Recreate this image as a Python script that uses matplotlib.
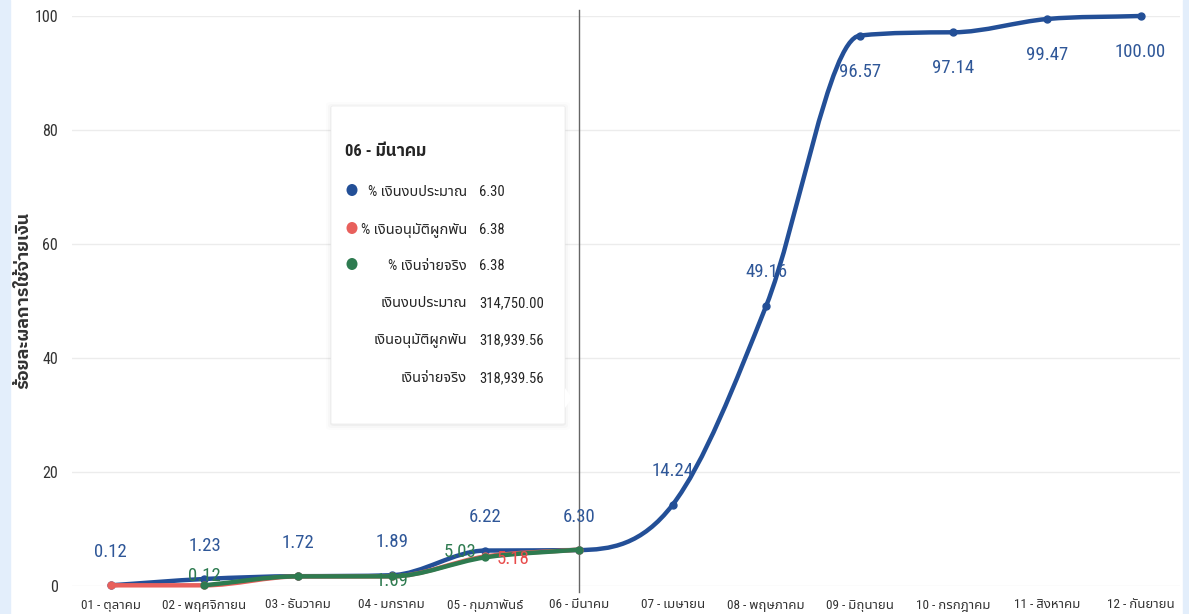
import numpy as np
import matplotlib
matplotlib.use("Agg")
import matplotlib.pyplot as plt
from matplotlib.path import Path
from matplotlib.patches import PathPatch, FancyBboxPatch, Rectangle, Polygon, Ellipse

plt.rcParams['font.family'] = ['Roboto Condensed', 'Noto Sans Thai', 'DejaVu Sans']
BOLD_FAMILY = ['Roboto Condensed', 'IBM Plex Sans Thai', 'Sarabun', 'Noto Sans Thai', 'DejaVu Sans']

# ---- data ----
months = ["01 - ตุลาคม", "02 - พฤศจิกายน", "03 - ธันวาคม", "04 - มกราคม",
          "05 - กุมภาพันธ์", "06 - มีนาคม", "07 - เมษายน", "08 - พฤษภาคม",
          "09 - มิถุนายน", "10 - กรกฎาคม", "11 - สิงหาคม", "12 - กันยายน"]
budget_pct = [0.12, 1.23, 1.72, 1.89, 6.22, 6.30, 14.24, 49.16, 96.57, 97.14, 99.47, 100.00]
commit_pct = [0.12, 0.12, 1.69, 1.69, 5.18, 6.38]
paid_pct = [None, 0.12, 1.69, 1.69, 5.03, 6.38]

tip_title = "06 - มีนาคม"
tip_labels = ["% เงินงบประมาณ", "% เงินอนุมัติผูกพัน", "% เงินจ่ายจริง",
              "เงินงบประมาณ", "เงินอนุมัติผูกพัน", "เงินจ่ายจริง"]
tip_values = ["6.30", "6.38", "6.38", "314,750.00", "318,939.56", "318,939.56"]
hover_idx = 5
ylabel = "ร้อยละผลการใช้จ่ายเงิน"

BLUE = "#234f97"
RED = "#e8605c"
GREEN = "#2e7b50"


def smooth_path(xs, ys):
    # monotone cubic bezier through the points (Fritsch-Carlson tangents)
    xs = np.asarray(xs, float)
    ys = np.asarray(ys, float)
    d = np.diff(ys) / np.diff(xs)
    m = np.zeros(len(ys))
    m[0], m[-1] = d[0], d[-1]
    for k in range(1, len(ys) - 1):
        m[k] = (d[k-1] + d[k]) / 2 if d[k-1] * d[k] > 0 else 0.0
    for k in range(len(d)):
        if d[k] == 0:
            m[k] = m[k+1] = 0.0
        else:
            a, b = m[k] / d[k], m[k+1] / d[k]
            s = a * a + b * b
            if s > 9:
                t = 3 / np.sqrt(s)
                m[k], m[k+1] = t * a * d[k], t * b * d[k]
    verts = [(xs[0], ys[0])]
    codes = [Path.MOVETO]
    for k in range(len(d)):
        h = xs[k+1] - xs[k]
        verts += [(xs[k] + h / 3, ys[k] + m[k] * h / 3),
                  (xs[k+1] - h / 3, ys[k+1] - m[k+1] * h / 3),
                  (xs[k+1], ys[k+1])]
        codes += [Path.CURVE4] * 3
    return Path(verts, codes)


def draw_series(ax, vals, color, z):
    pts = [(i, v) for i, v in enumerate(vals) if v is not None]
    xs = [p[0] for p in pts]
    ys = [p[1] for p in pts]
    ax.add_patch(PathPatch(smooth_path(xs, ys), fill=False, edgecolor=color,
                           lw=3.2, zorder=z, clip_on=False, capstyle='round'))
    ax.plot(xs, ys, 'o', color=color, ms=5, zorder=z + 0.1, clip_on=False)


fig = plt.figure(figsize=(11.89, 6.14), dpi=100)
W, H = 1189, 614

# light blue strips at the page edges
fig.patches.append(Rectangle((0, 0), 10 / W, 1, transform=fig.transFigure,
                             color="#e3eefb", zorder=0))
fig.patches.append(Rectangle((1 - 6 / W, 0), 6 / W, 1, transform=fig.transFigure,
                             color="#e3eefb", zorder=0))

ax = fig.add_axes([72 / W, 1 - 586 / H, (1180 - 72) / W, (586 - 16) / H])
x = np.arange(len(months))
ax.set_xlim(-0.415, 11.42)
ax.set_ylim(0, 100)
ax.set_yticks([0, 20, 40, 60, 80, 100])
ax.set_xticks(x)
ax.set_xticklabels(months, fontsize=9.5, color="#333333")
ax.tick_params(axis='y', labelsize=11.5, colors="#333333", length=0, pad=10)
ax.tick_params(axis='x', length=0, pad=9)
ax.grid(axis='y', color="#ececec", lw=1)
ax.set_axisbelow(True)
for s in ax.spines.values():
    s.set_visible(False)
fig.text(23 / W, 1 - 300 / H, ylabel, rotation=90, fontsize=13, color="#333333",
         fontweight='bold', family=BOLD_FAMILY, ha='center', va='center')

# hover line
ax.axvline(hover_idx, color="#666666", lw=1, zorder=1, ymin=-0.01, ymax=1.01, clip_on=False)

draw_series(ax, budget_pct, BLUE, 3)
draw_series(ax, commit_pct, RED, 4)
draw_series(ax, paid_pct, GREEN, 5)

# data labels
for i, v in enumerate(budget_pct):
    dy = -26 if i >= 8 else 24
    ax.annotate(f"{v:.2f}", (i, v), xytext=(0, dy), textcoords='offset points',
                ha='center', va='center', fontsize=13.5, color="#2f5798", zorder=6,
                annotation_clip=False)
ax.annotate(f"{commit_pct[4]:.2f}", (4, commit_pct[4]), xytext=(20, -2),
            textcoords='offset points', ha='center', va='center', fontsize=13.5,
            color="#e84c4c", zorder=6)
for i, dx, dy in [(1, 0, 7), (3, 0, -3), (4, -18, 4)]:
    ax.annotate(f"{paid_pct[i]:.2f}", (i, paid_pct[i]), xytext=(dx, dy),
                textcoords='offset points', ha='center', va='center', fontsize=13.5,
                color="#2e7b50", zorder=6)

# tooltip
bx0, by0, bx1, by1 = 331, 106, 565, 424
for k, a in enumerate([0.03, 0.02, 0.012]):
    o = 1 + k * 2
    fig.patches.append(FancyBboxPatch((bx0 / W - o / W, 1 - (by1 + o + 1) / H),
                                      (bx1 - bx0 + 2 * o) / W, (by1 - by0 + 2 * o) / H,
                                      boxstyle="round,pad=0,rounding_size=0.004",
                                      transform=fig.transFigure, facecolor="black",
                                      edgecolor="none", alpha=a, zorder=9))
fig.patches.append(FancyBboxPatch((bx0 / W, 1 - by1 / H), (bx1 - bx0) / W, (by1 - by0) / H,
                                  boxstyle="round,pad=0,rounding_size=0.002",
                                  transform=fig.transFigure, facecolor="white",
                                  edgecolor="#eeeeee", lw=0.6, zorder=10))
fig.patches.append(Polygon([(bx1 / W, 1 - 388 / H), (572 / W, 1 - 398 / H),
                            (bx1 / W, 1 - 408 / H)], closed=True,
                           transform=fig.transFigure, facecolor="white",
                           edgecolor="none", zorder=10.5))
fig.text(345 / W, 1 - 152 / H, tip_title, fontsize=12, fontweight='bold',
         family=BOLD_FAMILY, color="#252525", va='center', ha='left', zorder=11)
row_y = [192, 230, 266, 303, 340, 378]
dot_colors = [BLUE, RED, GREEN]
for k, (lab, val) in enumerate(zip(tip_labels, tip_values)):
    yy = 1 - row_y[k] / H
    if k < 3:
        fig.patches.append(Ellipse((352 / W, yy + 2 / H), 11 / W, 12 / H,
                                   transform=fig.transFigure,
                                   facecolor=dot_colors[k], edgecolor='none', zorder=11))
    fig.text(467 / W, yy, lab, fontsize=10.5, color="#252525", ha='right', va='center', zorder=11)
    fig.text(479 / W, yy, val, fontsize=10.5, color="#252525", ha='left', va='center', zorder=11)

fig.savefig("out.png", dpi=100)
